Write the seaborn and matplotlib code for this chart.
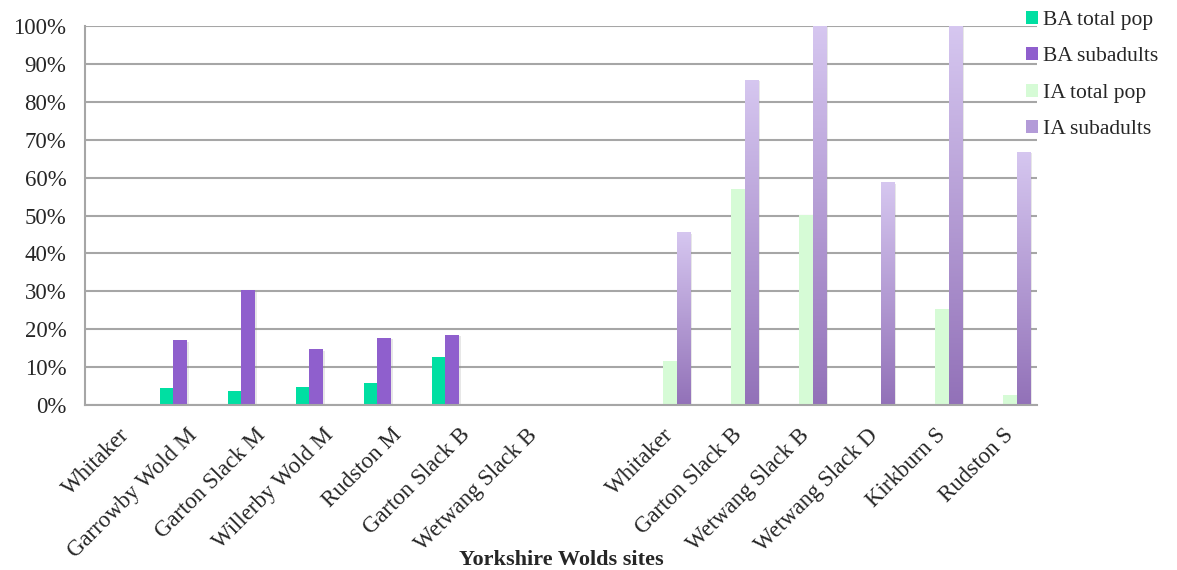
import numpy as np
import pandas as pd
import matplotlib
matplotlib.use("Agg")
import matplotlib.pyplot as plt
import matplotlib.patheffects as pe
from matplotlib.ticker import PercentFormatter, FixedLocator
from matplotlib.patches import Patch
import seaborn as sns

# ---- data ----
site_labels = ["Whitaker", "Garrowby Wold M", "Garton Slack M", "Willerby Wold M",
               "Rudston M", "Garton Slack B", "Wetwang Slack B", "",
               "Whitaker", "Garton Slack B", "Wetwang Slack B", "Wetwang Slack D",
               "Kirkburn S", "Rudston S"]
series = ["BA total pop", "BA subadults", "IA total pop", "IA subadults"]
ba_total = [0.0, 4.4, 3.7, 4.8, 5.9, 12.7, 0.0, np.nan, np.nan, np.nan, np.nan, np.nan, np.nan, np.nan]
ba_sub = [0.0, 17.1, 30.3, 14.7, 17.7, 18.5, 0.0, np.nan, np.nan, np.nan, np.nan, np.nan, np.nan, np.nan]
ia_total = [np.nan, np.nan, np.nan, np.nan, np.nan, np.nan, np.nan, np.nan, 11.6, 57.1, 50.2, 0.0, 25.2, 2.6]
ia_sub = [np.nan, np.nan, np.nan, np.nan, np.nan, np.nan, np.nan, np.nan, 45.6, 85.8, 100.0, 58.8, 100.0, 66.8]

colors = ["#00DFA2", "#8F5FCD", "#D6FBD6", "#B39BD8"]
grad_top = np.array([214, 199, 240]) / 255
grad_bot = np.array([146, 113, 184]) / 255

keys = [f"s{i}" for i in range(len(site_labels))]
rows = []
for name, vals in zip(series, [ba_total, ba_sub, ia_total, ia_sub]):
    for k, v in zip(keys, vals):
        rows.append({"site": k, "series": name, "value": v / 100.0 if np.isfinite(v) else np.nan})
df = pd.DataFrame(rows)

sns.set_style("white")
plt.rcParams["font.family"] = ["Liberation Serif", "DejaVu Serif"]

fig = plt.figure(figsize=(11.77, 5.70), dpi=100)
ax = fig.add_axes([85 / 1177, 1 - 405 / 570, (1037 - 85) / 1177, (405 - 26) / 570])

sns.barplot(data=df, x="site", y="value", hue="series", order=keys, hue_order=series,
            palette=colors, errorbar=None, width=0.8, ax=ax, legend=False,
            saturation=1, linewidth=0)

shadow = [pe.SimplePatchShadow(offset=(1.5, -1), shadow_rgbFace="#888888", alpha=0.2), pe.Normal()]
for c in ax.containers:
    for p in c.patches:
        p.set_path_effects(shadow)

# gradient on IA subadults bars
grad = np.linspace(0, 1, 256)[:, None, None]
img = grad_top * (1 - grad) + grad_bot * grad
for p in ax.containers[3].patches:
    h = p.get_height()
    if not np.isfinite(h) or h <= 0:
        continue
    x0 = p.get_x(); w = p.get_width()
    im = ax.imshow(img, extent=(x0, x0 + w, 0, h), origin="upper", aspect="auto", zorder=p.get_zorder() + 0.1)
    im.set_clip_path(p)

ax.set_xlim(-0.5, len(keys) - 0.5)
ax.set_ylim(0, 1.0)
ax.yaxis.set_major_locator(FixedLocator(np.arange(0, 1.01, 0.1)))
ax.yaxis.set_major_formatter(PercentFormatter(1.0, decimals=0))
ax.grid(axis="y", color="#A6A6A6", linewidth=1.5, zorder=0)
ax.set_axisbelow(True)

for s in ["top", "right"]:
    ax.spines[s].set_visible(False)
for s in ["left", "bottom"]:
    ax.spines[s].set_color("#A6A6A6")
    ax.spines[s].set_linewidth(1.5)

ax.set_xticks(range(len(keys)))
ax.set_xticklabels(site_labels, rotation=45, ha="right", rotation_mode="anchor", fontsize=16.5)
ax.tick_params(axis="x", which="major", length=0, pad=14)
ax.set_xticks(np.arange(-0.5, len(keys), 1.0), minor=True)
ax.tick_params(axis="x", which="minor", length=5, width=1.5, color="#A6A6A6", direction="out")
ax.tick_params(axis="y", length=4.5, width=1.5, color="#A6A6A6", labelsize=16.5, pad=9)

ax.set_ylabel("")
ax.set_xlabel("Yorkshire Wolds sites", fontsize=16, fontweight="bold")
ax.xaxis.set_label_coords(0.5, -0.382)

handles = [Patch(facecolor=c, edgecolor="none") for c in colors]
fig.legend(handles, series, loc="upper left", bbox_to_anchor=(1013 / 1177, 1.0 + 2 / 570),
           frameon=False, fontsize=15.5, handlelength=0.55, handleheight=0.55,
           handletextpad=0.25, labelspacing=0.8, borderaxespad=0.2)

fig.savefig("out.png", dpi=100)
